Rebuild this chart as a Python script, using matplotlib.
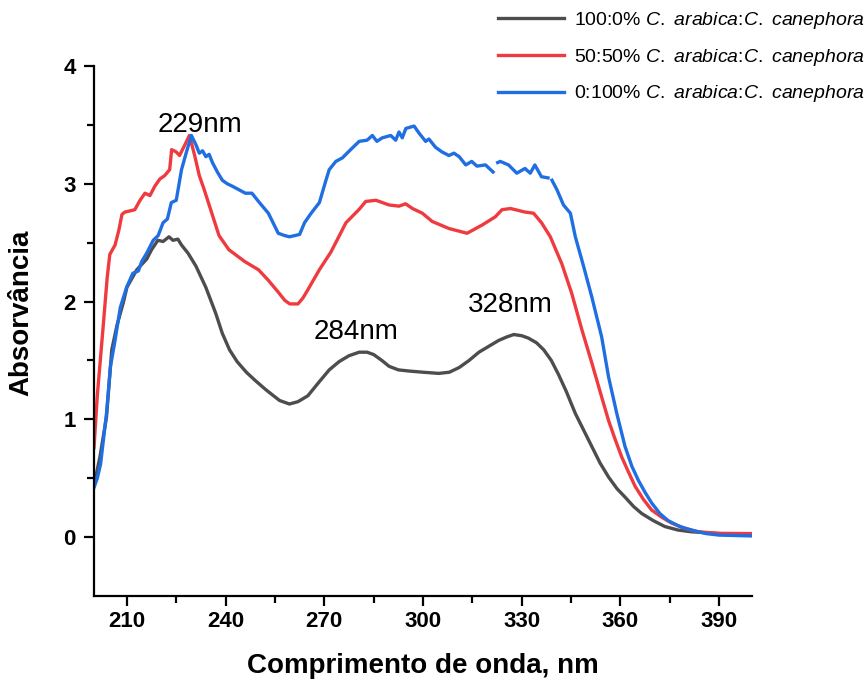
import numpy as np
import matplotlib
matplotlib.use("Agg")
import matplotlib.pyplot as plt

plt.rcParams['font.family'] = ['Liberation Sans', 'DejaVu Sans']
plt.rcParams['mathtext.fontset'] = 'custom'
plt.rcParams['mathtext.rm'] = 'Liberation Sans'
plt.rcParams['mathtext.it'] = 'Liberation Sans:italic'

# Spectra (wavelength nm, absorbance)
x_100_0 = [200, 201.8, 203.8, 205.4, 207, 208.9, 210, 213, 215, 216, 217.5, 219.4, 221,
           222.8, 224, 225.5, 226.6, 228.6, 231, 234, 237, 239, 241.2, 243.5, 246.3, 249,
           252.3, 256.4, 259.4, 262, 265, 268.5, 271.5, 274.5, 277.5, 280.6, 283, 285,
           287.5, 289.7, 292.5, 295.8, 300, 304.8, 308, 311, 314, 317, 320, 323, 325.5,
           327.6, 330, 332, 334.5, 336.7, 339, 341.2, 343.5, 346.3, 348.8, 351.3, 353.8,
           356.4, 359, 361.4, 364, 366.5, 370, 373.5, 377.5, 381.6, 390, 400]
y_100_0 = [0.44, 0.68, 1.02, 1.59, 1.80, 1.99, 2.12, 2.27, 2.33, 2.36, 2.44, 2.52, 2.51,
           2.55, 2.52, 2.53, 2.48, 2.41, 2.30, 2.12, 1.90, 1.73, 1.59, 1.49, 1.40, 1.33,
           1.25, 1.16, 1.13, 1.15, 1.20, 1.32, 1.42, 1.49, 1.54, 1.57, 1.57, 1.55,
           1.50, 1.45, 1.42, 1.41, 1.40, 1.39, 1.40, 1.44, 1.50, 1.57, 1.62, 1.67, 1.70,
           1.72, 1.71, 1.69, 1.65, 1.59, 1.50, 1.38, 1.24, 1.05, 0.91, 0.77, 0.63,
           0.51, 0.41, 0.34, 0.26, 0.20, 0.14, 0.09, 0.06, 0.045, 0.03, 0.025]

x_50_50 = [200, 201, 202.7, 204, 204.8, 206.4, 207.5, 208.5, 209.4, 211, 212.4, 214,
           215.5, 217, 218.5, 220, 221.5, 223, 223.6, 225, 226, 227.6, 229, 230.6, 232,
           233.5, 235, 236.5, 238, 241, 245.8, 250, 253, 256, 258, 259.5, 262, 263.5,
           265, 268.5, 272, 276.6, 280.5, 282.6, 285.7, 289.7, 292.7, 294.7, 296.8,
           299.8, 302.8, 307.9, 313.4, 318, 322, 324, 326.6, 331, 333.6, 336, 338.7,
           342.2, 345.2, 348.3, 351.3, 354.3, 356.4, 358.4, 360.4, 362.5, 364.5, 367,
           369.5, 372.5, 375.5, 379.5, 383.6, 390, 400]
y_50_50 = [0.76, 1.20, 1.76, 2.20, 2.40, 2.48, 2.60, 2.74, 2.76, 2.77, 2.78, 2.86,
           2.92, 2.90, 2.98, 3.04, 3.07, 3.12, 3.29, 3.27, 3.24, 3.33, 3.41, 3.24, 3.07,
           2.95, 2.82, 2.69, 2.56, 2.44, 2.34, 2.27, 2.18, 2.08, 2.01, 1.98, 1.98, 2.03,
           2.10, 2.27, 2.42, 2.67, 2.78, 2.85, 2.86, 2.82, 2.81, 2.83, 2.79,
           2.75, 2.68, 2.62, 2.58, 2.65, 2.72, 2.78, 2.79, 2.76, 2.75, 2.67, 2.55,
           2.32, 2.07, 1.76, 1.48, 1.19, 0.99, 0.83, 0.68, 0.55, 0.43, 0.32,
           0.23, 0.17, 0.12, 0.075, 0.045, 0.032, 0.03]

x_0_100 = [200, 201, 202, 203.8, 205, 206.4, 206.9, 208, 209.9, 211.8, 213.5, 214.5, 216,
           218, 219.5, 221, 222.3, 223.5, 225, 226.6, 228, 229.6, 231, 232, 233, 234,
           235, 236, 237.5, 239, 240.5, 242, 244, 246, 248, 250, 253, 256, 258, 259.4,
           261, 262.5, 264, 266, 268.5, 270.5, 271.5, 273.5, 275.5, 278, 280.6, 283,
           284.6, 286, 287.6, 290.2, 291.7, 292.7, 293.7, 294.8, 297.3, 298.8, 300.8,
           301.8, 303.8, 305.8, 307.9, 309.4, 311, 313, 314.8, 316.4, 319, 321.3, 322,
           322.7, 323.5, 326, 328.5, 331, 332.6, 334, 336, 338, 338.5, 339.2, 340.7,
           342.7, 344.8, 346.3, 348.8, 351.3, 354.3, 356.4, 358.9, 361.4, 363.5, 365.5,
           367.5, 369.5, 372, 374.5, 378, 381.6, 386, 390, 400]
y_0_100 = [0.42, 0.50, 0.62, 1.05, 1.45, 1.67, 1.76, 1.95, 2.12, 2.24, 2.26, 2.34, 2.41,
           2.52, 2.56, 2.67, 2.70, 2.84, 2.86, 3.12, 3.26, 3.41, 3.33, 3.26, 3.28, 3.23,
           3.25, 3.18, 3.10, 3.03, 3.00, 2.98, 2.95, 2.92, 2.92, 2.85, 2.75, 2.58, 2.56, 2.55,
           2.56, 2.57, 2.67, 2.75, 2.84, 3.03, 3.12, 3.19, 3.22, 3.29, 3.36, 3.37,
           3.41, 3.36, 3.39, 3.41, 3.37, 3.44, 3.39, 3.47, 3.49, 3.43, 3.36,
           3.38, 3.31, 3.27, 3.24, 3.26, 3.23, 3.16, 3.19, 3.15, 3.16, 3.10, np.nan,
           3.18, 3.19, 3.16, 3.09, 3.13, 3.09, 3.16, 3.06, 3.05, np.nan, 3.03, 2.95,
           2.82, 2.75, 2.55, 2.30, 2.04, 1.70, 1.36, 1.05, 0.77, 0.60, 0.48,
           0.38, 0.29, 0.20, 0.14, 0.09, 0.06, 0.03, 0.017, 0.01]

peak_labels = ["229nm", "284nm", "328nm"]
peak_pos = [(232.1, 3.50), (279.7, 1.74), (326.4, 1.97)]

fig = plt.figure(figsize=(8.67, 6.81), dpi=100)
ax = fig.add_axes([94 / 867, 85 / 681, 658 / 867, 530 / 681])

lw = 2.4
ax.plot(x_100_0, y_100_0, color='#4d4d4d', lw=lw,
        label=r"100:0% $\mathit{C.}$ $\mathit{arabica}$:$\mathit{C.}$ $\mathit{canephora}$")
ax.plot(x_50_50, y_50_50, color='#ef3b3f', lw=lw,
        label=r"50:50% $\mathit{C.}$ $\mathit{arabica}$:$\mathit{C.}$ $\mathit{canephora}$")
ax.plot(x_0_100, y_0_100, color='#1f6fe3', lw=lw,
        label=r"0:100% $\mathit{C.}$ $\mathit{arabica}$:$\mathit{C.}$ $\mathit{canephora}$")

for txt, (px, py) in zip(peak_labels, peak_pos):
    ax.text(px, py, txt, fontsize=20, ha='center', va='center')

ax.set_xlim(200, 400)
ax.set_ylim(-0.5, 4)
ax.set_xticks(np.arange(210, 400, 30))
ax.set_xticks(np.arange(225, 400, 30), minor=True)
ax.set_yticks([0, 1, 2, 3, 4])
ax.set_yticks([0.5, 1.5, 2.5, 3.5], minor=True)

for s in ['top', 'right']:
    ax.spines[s].set_visible(False)
for s in ['left', 'bottom']:
    ax.spines[s].set_linewidth(1.6)

ax.tick_params(which='major', direction='out', length=7, width=1.6, labelsize=16, pad=4)
ax.tick_params(which='minor', direction='out', length=5, width=1.6)
ax.tick_params(axis='y', which='major', pad=6)
for lbl in ax.get_xticklabels() + ax.get_yticklabels():
    lbl.set_fontweight('bold')

ax.set_xlabel("Comprimento de onda, nm", fontsize=20, fontweight='bold', labelpad=15)
ax.set_ylabel("Absorvância", fontsize=20, fontweight='bold')
ax.yaxis.set_label_coords(-0.091, 0.534)

fig.legend(loc='upper right', bbox_to_anchor=(0.997, 0.985), frameon=False,
           fontsize=14, handlelength=3.4, handletextpad=0.5, labelspacing=0.8,
           borderpad=0, borderaxespad=0)

fig.savefig("out.png", dpi=100)
